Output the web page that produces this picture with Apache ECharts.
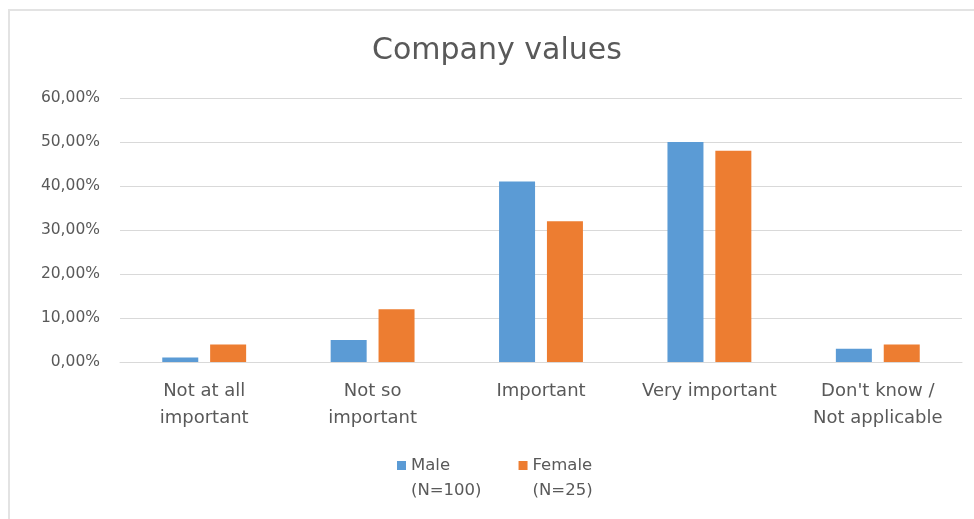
<!DOCTYPE html>
<html><head><meta charset="utf-8">
<script src="https://cdn.jsdelivr.net/npm/echarts@6/dist/echarts.min.js"></script>
<style>html,body{margin:0;padding:0;background:#fff;}
#frame{position:absolute;left:8px;top:9px;width:980px;height:520px;border:2px solid #e3e3e3;box-sizing:border-box;}
#c{position:absolute;left:0;top:0;width:974px;height:519px;}</style>
</head><body><div id="frame"></div><div id="c"></div>
<script>
const categories = ['Not at all\nimportant', 'Not so\nimportant', 'Important', 'Very important', "Don't know /\nNot applicable"];
const male = [0.01, 0.05, 0.41, 0.50, 0.03];
const female = [0.04, 0.12, 0.32, 0.48, 0.04];
const seriesNames = ['Male\n(N=100)', 'Female\n(N=25)'];
const chartTitle = 'Company values';

const font = '"DejaVu Sans", "Liberation Sans", sans-serif';
const chart = echarts.init(document.getElementById('c'));
chart.setOption({
  animation: false,
  title: {text: chartTitle, left: 367, top: 31, textStyle: {fontFamily: font, fontSize: 30, fontWeight: 'normal', color: '#595959'}},
  legend: {top: 448, left: 392, itemWidth: 9, itemHeight: 34, itemGap: 37,
    icon: 'path://M0,0 L9,0 L9,9 L0,9 Z M0,34',
    textStyle: {fontFamily: font, fontSize: 16.5, color: '#595959', lineHeight: 25}, data: seriesNames},
  grid: {left: 120, right: 12, top: 98, bottom: 157, containLabel: false},
  xAxis: {type: 'category', data: categories,
    axisLine: {lineStyle: {color: '#d9d9d9'}}, axisTick: {show: false},
    axisLabel: {fontFamily: font, fontSize: 18, color: '#595959', lineHeight: 27, margin: 16, interval: 0}},
  yAxis: {type: 'value', min: 0, max: 0.6, interval: 0.1,
    axisLine: {show: false}, axisTick: {show: false},
    splitLine: {lineStyle: {color: '#d9d9d9'}},
    axisLabel: {fontFamily: font, fontSize: 15.5, color: '#595959', margin: 20,
      formatter: v => (v * 100).toFixed(2).replace('.', ',') + '%'}},
  series: [
    {name: seriesNames[0], type: 'bar', data: male, barWidth: 36, barGap: '33%', itemStyle: {color: '#5b9bd5'}},
    {name: seriesNames[1], type: 'bar', data: female, barWidth: 36, itemStyle: {color: '#ed7d31'}}
  ]
});
</script></body></html>
